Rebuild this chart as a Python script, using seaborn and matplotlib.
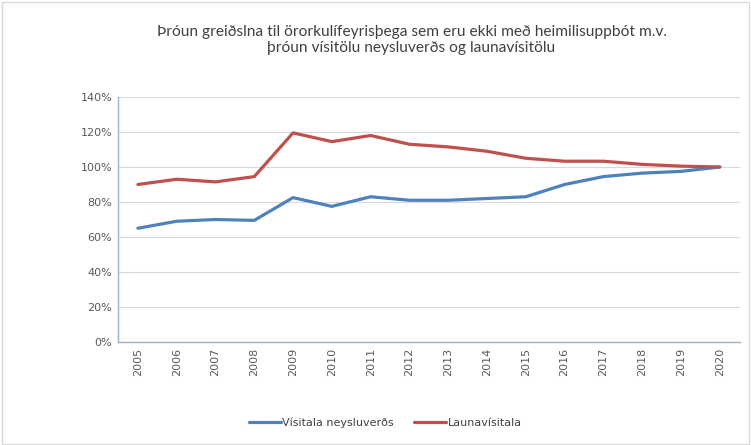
import matplotlib
matplotlib.use('Agg')
import matplotlib.pyplot as plt
import matplotlib.ticker as mticker
import seaborn as sns
import pandas as pd

# values (percent)
years = list(range(2005, 2021))
neysluverd = [65, 69, 70, 69.5, 82.5, 77.5, 83, 81, 81, 82, 83, 90, 94.5, 96.5, 97.5, 100]
launavisitala = [90, 93, 91.5, 94.5, 119.5, 114.5, 118, 113, 111.5, 109, 105, 103.3, 103.3, 101.5, 100.5, 100]
series_names = ['Vísitala neysluverðs', 'Launavísitala']
title = 'Þróun greiðslna til örorkulífeyrisþega sem eru ekki með heimilisuppbót m.v.\nþróun vísitölu neysluverðs og launavísitölu'

df = pd.DataFrame({
    'year': years * 2,
    'value': neysluverd + launavisitala,
    'series': [series_names[0]] * len(years) + [series_names[1]] * len(years),
})

sns.set_style('white')
plt.rcParams['font.family'] = ['DejaVu Sans']

fig = plt.figure(figsize=(7.51, 4.45), dpi=100)
ax = fig.add_axes([0.157, 0.2315, 0.828, 0.5505])

sns.lineplot(data=df, x='year', y='value', hue='series',
             palette=['#4F81BD', '#C0504D'], linewidth=2.3, ax=ax)

ax.set_xlim(2004.485, 2020.515)
ax.set_ylim(0, 140)
ax.set_xticks(years)
ax.set_xticklabels([str(y) for y in years], rotation=90)
ax.set_yticks(range(0, 141, 20))
ax.yaxis.set_major_formatter(mticker.FuncFormatter(lambda v, p: f'{int(v)}%'))
ax.tick_params(axis='both', labelsize=8, colors='#595959', length=0, pad=4)
ax.grid(axis='y', color='#D9D9D9', linewidth=0.8)
ax.set_axisbelow(True)
ax.set_xlabel('')
ax.set_ylabel('')
for s in ['top', 'right']:
    ax.spines[s].set_visible(False)
for s in ['left', 'bottom']:
    ax.spines[s].set_color('#9EB2C8')
    ax.spines[s].set_linewidth(1)

leg = ax.legend(loc='center', bbox_to_anchor=(0.43, -0.33), bbox_transform=ax.transAxes,
                ncol=2, frameon=False, fontsize=8, handlelength=2.9, handletextpad=0.1,
                columnspacing=1.8)
for t in leg.get_texts():
    t.set_color('#404040')

fig.text(0.548, 0.91, title, ha='center', va='center', fontsize=11.2,
         color='#404040', family=['Lato', 'DejaVu Sans'], linespacing=1.2)

# outer frame
fig.patches.append(plt.Rectangle((0.002, 0.002), 0.996, 0.994, transform=fig.transFigure,
                                 fill=False, edgecolor='#D9D9D9', linewidth=1))

fig.savefig('out.png', dpi=100)
